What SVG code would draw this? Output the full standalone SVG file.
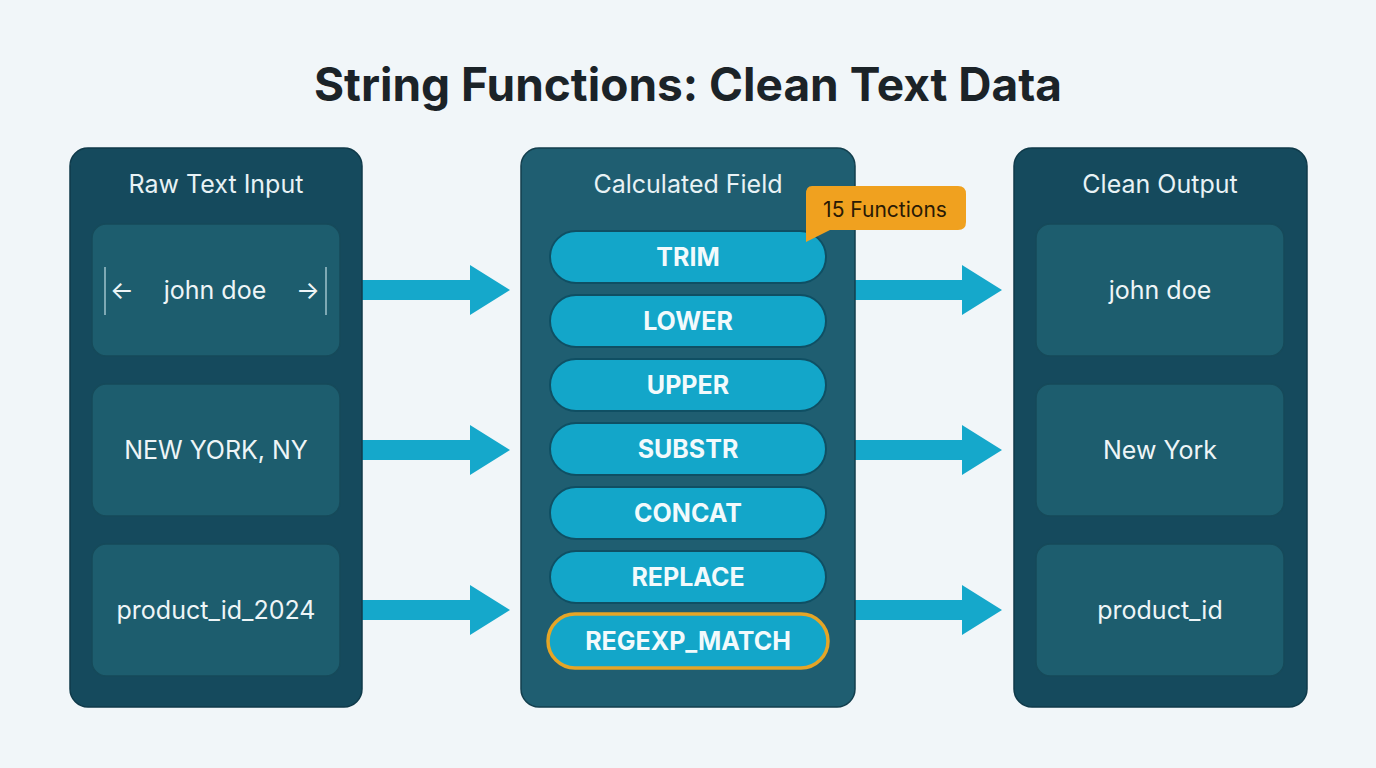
<svg xmlns="http://www.w3.org/2000/svg" width="1376" height="768" viewBox="0 0 1376 768">
<style>
.panel{fill:#154a5d;stroke:#0f3a4a;stroke-width:1.5}
.mid{fill:#1f5e71;stroke:#133f4e;stroke-width:1.5}
.box{fill:#1d5d6e;stroke:#164a5a;stroke-width:1.5}
.pill{fill:#13a6c9;stroke:#0f4f63;stroke-width:2}
.h{font-family:Inter,"Liberation Sans",sans-serif;font-size:25px;fill:#e8f2f5;text-anchor:middle}
.t{font-family:Inter,"Liberation Sans",sans-serif;font-size:25px;fill:#eef5f7;text-anchor:middle}
.p{font-family:Inter,"Liberation Sans",sans-serif;font-size:25px;font-weight:700;fill:#f2fafc;text-anchor:middle}
.arr{fill:#15a8cb}
</style>
<rect width="1376" height="768" fill="#f1f6f9"/>
<text x="688" y="101" font-family="Inter,'Liberation Sans',sans-serif" font-size="46" font-weight="700" fill="#1b2328" text-anchor="middle">String Functions: Clean Text Data</text>
<g id="connectors">
<path class="arr" d="M340 280H470V265L510 290L470 315V300H340Z"/>
<path class="arr" d="M340 440H470V425L510 450L470 475V460H340Z"/>
<path class="arr" d="M340 600H470V585L510 610L470 635V620H340Z"/>
<path class="arr" d="M855 280H962V265L1002 290L962 315V300H855Z"/>
<path class="arr" d="M855 440H962V425L1002 450L962 475V460H855Z"/>
<path class="arr" d="M855 600H962V585L1002 610L962 635V620H855Z"/>
</g>
<g id="raw-input">
<rect class="panel" x="70" y="148" width="292" height="559" rx="18"/>
<text class="h" x="216" y="193">Raw Text Input</text>
<rect class="box" x="92" y="224" width="248" height="132" rx="14"/>
<line x1="105" y1="267" x2="105" y2="315" stroke="#9fc3cd" stroke-width="1.5"/>
<line x1="326" y1="267" x2="326" y2="315" stroke="#9fc3cd" stroke-width="1.5"/>
<text class="t" x="122" y="299">←</text>
<text class="t" x="215" y="299">john doe</text>
<text class="t" x="308" y="299">→</text>
<rect class="box" x="92" y="384" width="248" height="132" rx="14"/>
<text class="t" x="216" y="459">NEW YORK, NY</text>
<rect class="box" x="92" y="544" width="248" height="132" rx="14"/>
<text class="t" x="216" y="619">product_id_2024</text>
</g>
<g id="calculated-field">
<rect class="mid" x="521" y="148" width="334" height="559" rx="18"/>
<text class="h" x="688" y="193">Calculated Field</text>
<rect class="pill" x="550" y="231" width="276" height="52" rx="26"/><text class="p" x="688" y="266">TRIM</text>
<rect class="pill" x="550" y="295" width="276" height="52" rx="26"/><text class="p" x="688" y="330">LOWER</text>
<rect class="pill" x="550" y="359" width="276" height="52" rx="26"/><text class="p" x="688" y="394">UPPER</text>
<rect class="pill" x="550" y="423" width="276" height="52" rx="26"/><text class="p" x="688" y="458">SUBSTR</text>
<rect class="pill" x="550" y="487" width="276" height="52" rx="26"/><text class="p" x="688" y="522">CONCAT</text>
<rect class="pill" x="550" y="551" width="276" height="52" rx="26"/><text class="p" x="688" y="586">REPLACE</text>
<rect x="548" y="614" width="280" height="54" rx="27" fill="#13a6c9" stroke="#e5a526" stroke-width="3.5"/><text class="p" x="688" y="650">REGEXP_MATCH</text>
</g>
<g id="badge">
<path d="M812 186H958Q966 186 966 194V222Q966 230 958 230H830L806 242V194Q806 186 812 186Z" fill="#f0a11f"/>
<text x="885" y="217" font-family="Inter,'Liberation Sans',sans-serif" font-size="21" fill="#2a1a05" text-anchor="middle">15 Functions</text>
</g>
<g id="clean-output">
<rect class="panel" x="1014" y="148" width="293" height="559" rx="18"/>
<text class="h" x="1160" y="193">Clean Output</text>
<rect class="box" x="1036" y="224" width="248" height="132" rx="14"/>
<text class="t" x="1160" y="299">john doe</text>
<rect class="box" x="1036" y="384" width="248" height="132" rx="14"/>
<text class="t" x="1160" y="459">New York</text>
<rect class="box" x="1036" y="544" width="248" height="132" rx="14"/>
<text class="t" x="1160" y="619">product_id</text>
</g>
</svg>
